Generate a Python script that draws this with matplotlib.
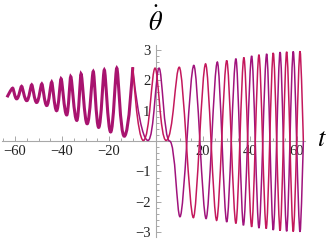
import numpy as np
import matplotlib
matplotlib.use("Agg")
import matplotlib.pyplot as plt
from matplotlib.path import Path
from matplotlib.patches import PathPatch
from matplotlib.ticker import MultipleLocator

plt.rcParams['font.family'] = ['Liberation Serif', 'DejaVu Serif']
plt.rcParams['mathtext.fontset'] = 'stix'

# Incoming rotation (t < 0): peaks and troughs
incoming_peak_t = [-61.0, -57.2, -52.9, -48.6, -44.4, -40.4, -36.3, -31.9, -26.7, -22.0, -16.7, -9.9]
incoming_peak_v = [1.74, 1.80, 1.85, 1.88, 1.94, 2.05, 2.12, 2.21, 2.29, 2.34, 2.40, 2.43]
incoming_trough_t = [-63.4, -59.3, -55.0, -50.8, -46.5, -42.3, -38.0, -33.7, -29.3, -24.4, -19.3, -13.5]
incoming_trough_v = [1.44, 1.39, 1.33, 1.27, 1.17, 1.00, 0.86, 0.68, 0.57, 0.45, 0.30, 0.16]

# The two solutions after they split near the separatrix
branch_a_t = [-9.9, -5.4, -0.4, 4.3, 9.9, 15.9, 21.1, 25.8, 30.1, 34.0, 37.4, 40.7,
              43.8, 46.9, 49.9, 52.8, 55.6, 58.4, 61.3, 62.7]
branch_a_v = [2.43, 0.02, 2.40, 0.02, 2.43, -2.52, 2.54, -2.61, 2.65, -2.71, 2.75, -2.82,
              2.84, -2.88, 2.90, -2.95, 2.94, -2.98, 2.96, 0.0]
branch_b_t = [-9.9, -3.4, 1.3, 5.8, 10.2, 16.1, 21.3, 26.1, 30.1, 34.0, 37.2, 40.7,
              43.8, 47.1, 49.9, 52.8, 55.6, 58.4, 61.3, 62.7]
branch_b_v = [2.43, 0.02, 2.40, 0.0, -2.49, 2.49, -2.55, 2.60, -2.66, 2.71, -2.77, 2.80,
              -2.86, 2.87, -2.93, 2.93, -2.97, 2.95, -2.99, 0.0]

x_ticks = [-60, -40, -20, 20, 40, 60]
y_ticks = [-3, -2, -1, 1, 2, 3]


def smooth_path(ts, vs, peak_h=0.3, trough_h=0.3, flat_h=0.55):
    """Bezier path through the extrema, flat tangent at every extremum."""
    ts, vs = list(ts), list(vs)
    last = len(ts) - 1

    def handle(i):
        if i == 0 or i == last:
            return 0.0
        if abs(vs[i]) < 0.3:
            return flat_h
        if vs[i] > vs[i - 1]:
            return peak_h
        return trough_h

    verts = [(ts[0], vs[0])]
    codes = [Path.MOVETO]
    for i in range(last):
        t0, v0, t1, v1 = ts[i], vs[i], ts[i + 1], vs[i + 1]
        dt = t1 - t0
        verts += [(t0 + handle(i) * dt, v0), (t1 - handle(i + 1) * dt, v1), (t1, v1)]
        codes += [Path.CURVE4] * 3
    return Path(verts, codes)


def main():
    fig = plt.figure(figsize=(3.27, 2.41), dpi=100)
    ax = fig.add_axes([0.0064, 0.0149, 0.927, 0.797])

    inc_t = np.array(incoming_peak_t + incoming_trough_t)
    inc_v = np.array(incoming_peak_v + incoming_trough_v)
    order = np.argsort(inc_t)

    ax.add_patch(PathPatch(smooth_path(inc_t[order], inc_v[order], peak_h=0.22, trough_h=0.45),
                           fill=False, edgecolor='#a8136f', lw=2.2, zorder=3))
    ax.add_patch(PathPatch(smooth_path(branch_b_t, branch_b_v, peak_h=0.3, trough_h=0.3),
                           fill=False, edgecolor='#a0137c', lw=1.1, zorder=3))
    ax.add_patch(PathPatch(smooth_path(branch_a_t, branch_a_v, peak_h=0.3, trough_h=0.3),
                           fill=False, edgecolor='#c4185c', lw=1.1, zorder=3))

    ax.set_xlim(-65.5, 63.5)
    ax.set_ylim(-3.17, 3.15)

    # Axes through the origin
    ax.spines['left'].set_position(('data', 0))
    ax.spines['bottom'].set_position(('data', 0))
    ax.spines[['top', 'right']].set_visible(False)
    for s in ('left', 'bottom'):
        ax.spines[s].set_color('#a8a8a8')
        ax.spines[s].set_linewidth(0.8)

    ax.set_xticks(x_ticks)
    ax.set_yticks(y_ticks)
    ax.xaxis.set_minor_locator(MultipleLocator(5))
    ax.yaxis.set_minor_locator(MultipleLocator(0.2))
    ax.tick_params(which='both', direction='in', colors='#a8a8a8', labelcolor='#222222',
                   labelsize=10.5, width=0.7)
    ax.tick_params(which='major', length=3.5)
    ax.tick_params(which='minor', length=2)
    ax.tick_params(axis='x', pad=3)
    ax.tick_params(axis='y', pad=4)

    ax.text(0, 3.95, r'$\dot{\theta}$', ha='center', va='center', fontsize=19, clip_on=False)
    ax.text(70.6, 0.05, r'$t$', ha='center', va='center', fontsize=19, clip_on=False)

    fig.savefig("out.png", dpi=100)


if __name__ == "__main__":
    main()
